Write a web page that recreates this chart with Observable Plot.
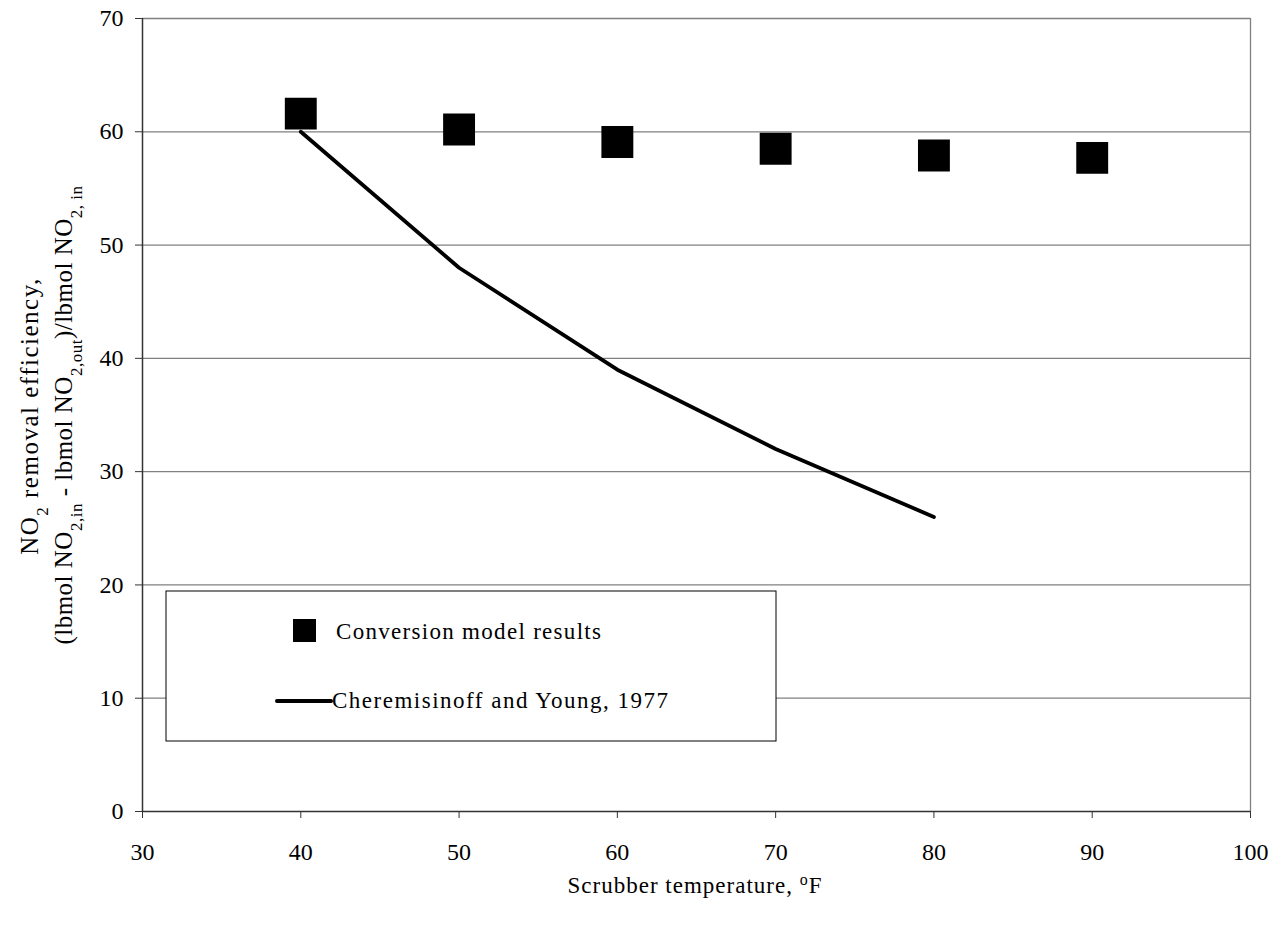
<!DOCTYPE html>
<html>
<head>
<meta charset="utf-8">
<script src="https://cdn.jsdelivr.net/npm/d3@7"></script>
<script src="https://cdn.jsdelivr.net/npm/@observablehq/plot@0.6"></script>
<style>
  html, body { margin: 0; padding: 0; background: #ffffff; }
  #chart svg { display: block; }
</style>
</head>
<body>
<div id="chart"></div>
<script>
// ---- data ----
const xTicks = [30, 40, 50, 60, 70, 80, 90, 100];
const yTicks = [0, 10, 20, 30, 40, 50, 60, 70];
const modelTemps = [40, 50, 60, 70, 80, 90];
const modelEff = [61.6, 60.2, 59.1, 58.5, 57.9, 57.7];
const refTemps = [40, 50, 60, 70, 80];
const refEff = [60, 48, 39, 32, 26];
const seriesNames = ["Conversion model results", "Cheremisinoff and Young, 1977"];
const gridValues = [10, 20, 30, 40, 50, 60, 70];

const modelData = modelTemps.map((t, i) => ({t, e: modelEff[i]}));
const refData = refTemps.map((t, i) => ({t, e: refEff[i]}));

const FONT = "'Liberation Serif', 'Times New Roman', serif";

const chart = Plot.plot({
  width: 1276,
  height: 927,
  marginLeft: 142,
  marginRight: 26,
  marginTop: 18,
  marginBottom: 116,
  style: {fontFamily: FONT, fontSize: "24px", background: "#ffffff", color: "#000"},
  x: {domain: [30, 100]},
  y: {domain: [0, 70]},
  marks: [
    Plot.ruleY(gridValues, {stroke: "#808080", strokeWidth: 1.3}),
    Plot.ruleX([100], {stroke: "#808080", strokeWidth: 1.3}),
    Plot.ruleX([30], {stroke: "#333", strokeWidth: 1.5}),
    Plot.ruleY([0], {stroke: "#333", strokeWidth: 1.5}),
    Plot.axisX({ticks: xTicks, tickSize: 7, tickPadding: 24, label: null, stroke: "#333", fontSize: 24}),
    Plot.axisY({ticks: yTicks, tickSize: 7, tickPadding: 12, label: null, stroke: "#333", fontSize: 24}),
    Plot.line(refData, {x: "t", y: "e", stroke: "#000", strokeWidth: 3.8, strokeLinejoin: "round", strokeLinecap: "round"}),
    Plot.dot(modelData, {x: "t", y: "e", symbol: "square", r: 18, fill: "#000", stroke: "none"})
  ]
});
document.getElementById("chart").appendChild(chart);

// ---- titles and legend (text with sub/superscripts) ----
const svg = d3.select(chart);

function addRich(g, parts, subSize) {
  parts.forEach(p => {
    const ts = g.append("tspan").text(p.t);
    if (p.s === "sub") ts.attr("baseline-shift", "sub").attr("font-size", subSize + "px");
    if (p.s === "sup") ts.attr("baseline-shift", "super").attr("font-size", subSize + "px");
  });
}

// x-axis title
const xt = svg.append("text")
  .attr("x", 695).attr("y", 893)
  .attr("text-anchor", "middle")
  .attr("letter-spacing", "1px")
  .attr("font-family", FONT).attr("font-size", 23).attr("fill", "#000");
addRich(xt, [{t: "Scrubber temperature, "}, {t: "o", s: "sup"}, {t: "F"}], 16);

// y-axis title line 1
const yt1 = svg.append("text")
  .attr("transform", "translate(38,416) rotate(-90)")
  .attr("text-anchor", "middle")
  .attr("letter-spacing", "1.5px")
  .attr("font-family", FONT).attr("font-size", 25).attr("fill", "#000");
addRich(yt1, [{t: "NO"}, {t: "2", s: "sub"}, {t: " removal efficiency,"}], 17);

// y-axis title line 2
const yt2 = svg.append("text")
  .attr("transform", "translate(72,415) rotate(-90)")
  .attr("text-anchor", "middle")
  .attr("letter-spacing", "0.5px")
  .attr("font-family", FONT).attr("font-size", 25).attr("fill", "#000");
addRich(yt2, [
  {t: "(lbmol NO"}, {t: "2,in", s: "sub"},
  {t: " - lbmol NO"}, {t: "2,out", s: "sub"},
  {t: ")/lbmol NO"}, {t: "2, in", s: "sub"}
], 17);

// legend
const lg = svg.append("g");
lg.append("rect")
  .attr("x", 166).attr("y", 591).attr("width", 610).attr("height", 150)
  .attr("fill", "#fff").attr("stroke", "#000").attr("stroke-width", 1);
lg.append("rect")
  .attr("x", 293).attr("y", 619).attr("width", 23).attr("height", 23)
  .attr("fill", "#000");
lg.append("text")
  .attr("x", 336).attr("y", 639)
  .attr("text-anchor", "start")
  .attr("letter-spacing", "1.3px")
  .attr("font-family", FONT).attr("font-size", 23).attr("fill", "#000")
  .text(seriesNames[0]);
lg.append("line")
  .attr("x1", 277).attr("x2", 331).attr("y1", 701).attr("y2", 701)
  .attr("stroke", "#000").attr("stroke-width", 4).attr("stroke-linecap", "round");
lg.append("text")
  .attr("x", 332).attr("y", 708)
  .attr("text-anchor", "start")
  .attr("letter-spacing", "1.5px")
  .attr("font-family", FONT).attr("font-size", 23).attr("fill", "#000")
  .text(seriesNames[1]);
</script>
</body>
</html>
